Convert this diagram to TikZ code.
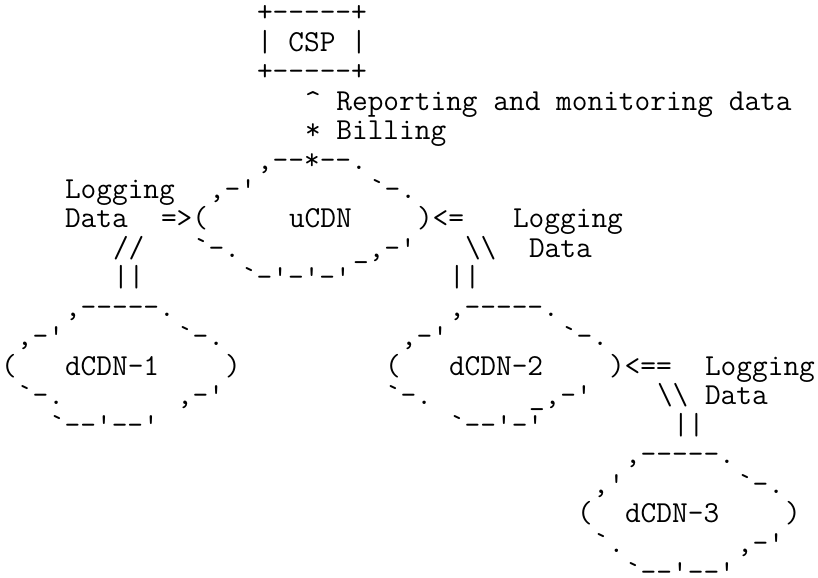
\documentclass[tikz,border=0pt]{standalone}
\usepackage{tikz}

\newcommand{\asciifont}{\fontsize{11.43pt}{11pt}\selectfont\ttfamily}

\begin{document}
\begin{tikzpicture}
			[x=6pt,y=-11.055pt,
			%Styles
			ascii/.style={anchor=base west,inner sep=0pt,outer sep=0pt,font=\asciifont}
			]
			
			\useasboundingbox (0,0) rectangle (51.125,19.573);
			
			%The graphic
			\begin{scope}[shift={(0.0625,-0.267)}]
			
			%CSP
			\node[ascii] (csptop) at (16,1) {+-----+};
			\node[ascii] (csp) at (16,2) {| CSP |};
			\node[ascii] (cspbot) at (16,3) {+-----+};
			\node[ascii] (report) at (19,4) {\textasciicircum{} Reporting and monitoring data};
			\node[ascii] (billing) at (19,5) {* Billing};
			
			%uCDN
			\node[ascii] (ucdnA) at (16,6) {,--*--.};
			\node[ascii] (logL) at (4,7) {Logging};
			\node[ascii] (ucdnB) at (13,7) {,-'};
			\node[ascii] (ucdnC) at (23,7) {`-.};
			\node[ascii] (dataL) at (4,8) {Data};
			\node[ascii] (inL) at (10,8) {=>(};
			\node[ascii] (ucdn) at (18,8) {uCDN};
			\node[ascii] (inR) at (26,8) {)<=};
			\node[ascii] (logR) at (32,8) {Logging};
			\node[ascii] (slashL) at (7,9) {//};
			\node[ascii] (ucdnD) at (12,9) {`-.};
			\node[ascii] (ucdnE) at (22,9) {\_,-'};
			\node[ascii] (slashR) at (29,9) {\textbackslash\textbackslash};
			\node[ascii] (dataR) at (33,9) {Data};
			\node[ascii] (barL) at (7,10) {||};
			\node[ascii] (ucdnF) at (15,10) {`-'-'-'};
			\node[ascii] (barR) at (28,10) {||};
			
			%dCDN-1
			\node[ascii] (d1A) at (4,11) {,-----.};
			\node[ascii] (d1B) at (1,12) {,-'};
			\node[ascii] (d1C) at (11,12) {`-.};
			\node[ascii] (d1L) at (0,13) {(};
			\node[ascii] (dcdn1) at (4,13) {dCDN-1};
			\node[ascii] (d1R) at (14,13) {)};
			\node[ascii] (d1D) at (1,14) {`-.};
			\node[ascii] (d1E) at (11,14) {,-'};
			\node[ascii] (d1F) at (3,15) {`--'--'};
			
			%dCDN-2
			\node[ascii] (d2A) at (28,11) {,-----.};
			\node[ascii] (d2B) at (25,12) {,-'};
			\node[ascii] (d2C) at (35,12) {`-.};
			\node[ascii] (d2L) at (24,13) {(};
			\node[ascii] (dcdn2) at (28,13) {dCDN-2};
			\node[ascii] (d2R) at (38,13) {)<==};
			\node[ascii] (logD) at (44,13) {Logging};
			\node[ascii] (d2D) at (24,14) {`-.};
			\node[ascii] (d2E) at (33,14) {\_,-'};
			\node[ascii] (slashD) at (41,14) {\textbackslash\textbackslash};
			\node[ascii] (dataD) at (44,14) {Data};
			\node[ascii] (d2F) at (28,15) {`--'-'};
			\node[ascii] (barD) at (42,15) {||};
			
			%dCDN-3
			\node[ascii] (d3A) at (39,16) {,-----.};
			\node[ascii] (d3B) at (37,17) {,'};
			\node[ascii] (d3C) at (46,17) {`-.};
			\node[ascii] (d3L) at (36,18) {(};
			\node[ascii] (dcdn3) at (39,18) {dCDN-3};
			\node[ascii] (d3R) at (49,18) {)};
			\node[ascii] (d3D) at (37,19) {`.};
			\node[ascii] (d3E) at (46,19) {,-'};
			\node[ascii] (d3F) at (39,20) {`--'--'};
			
			\end{scope}
		\end{tikzpicture}
\end{document}
